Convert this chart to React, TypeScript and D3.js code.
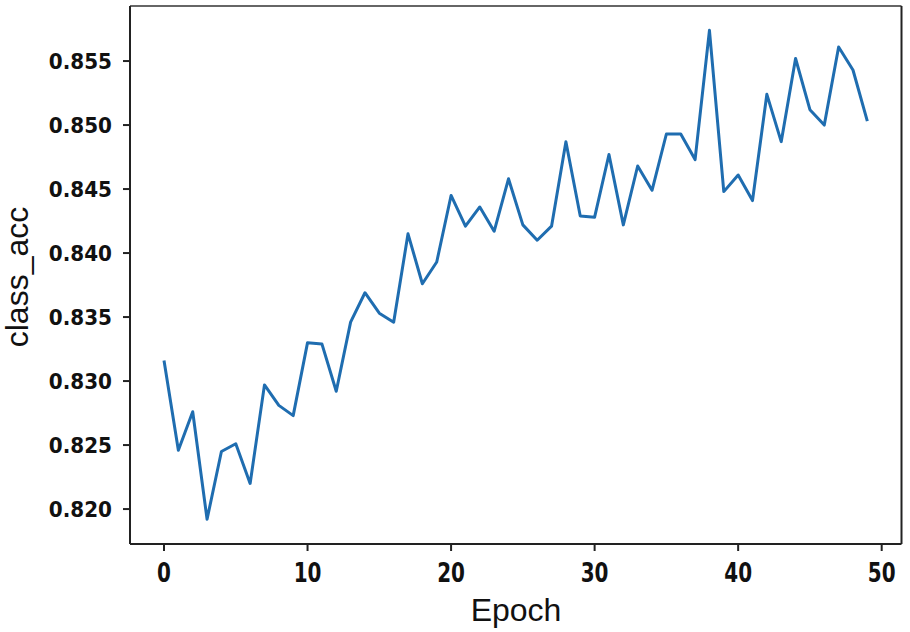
import React from "react";
import * as d3 from "d3";

const epochs: number[] = Array.from({ length: 50 }, (_, i) => i);
const classAcc: number[] = [
  0.8316, 0.8246, 0.8276, 0.8192, 0.8245, 0.8251, 0.822, 0.8297, 0.8281, 0.8273,
  0.833, 0.8329, 0.8292, 0.8346, 0.8369, 0.8353, 0.8346, 0.8415, 0.8376, 0.8393,
  0.8445, 0.8421, 0.8436, 0.8417, 0.8458, 0.8422, 0.841, 0.8421, 0.8487, 0.8429,
  0.8428, 0.8477, 0.8422, 0.8468, 0.8449, 0.8493, 0.8493, 0.8473, 0.8574, 0.8448,
  0.8461, 0.8441, 0.8524, 0.8487, 0.8552, 0.8512, 0.85, 0.8561, 0.8543, 0.8503,
];
const xTicks: number[] = [0, 10, 20, 30, 40, 50];
const yTicks: number[] = [0.82, 0.825, 0.83, 0.835, 0.84, 0.845, 0.85, 0.855];
const xLabel = "Epoch";
const yLabel = "class_acc";

export default function App() {
  const W = 910, H = 632;
  const left = 130, right = 901.5, top = 6, bottom = 544;
  const x = d3.scaleLinear().domain([-2.369, 51.38]).range([left, right]);
  const y = d3.scaleLinear().domain([0.81727, 0.8593]).range([bottom, top]);
  const line = d3
    .line<number>()
    .x((_, i) => x(epochs[i]))
    .y((d) => y(d));
  const tickFont = "'DejaVu Sans', sans-serif";
  return (
    <svg
      width={W}
      height={H}
      style={{ position: "absolute", left: 0, top: 0, background: "#fff" }}
    >
      <rect x={0} y={0} width={W} height={H} fill="#fff" />
      <path
        d={line(classAcc) || ""}
        fill="none"
        stroke="#1f6db0"
        strokeWidth={3}
        strokeLinejoin="round"
      />
      {/* spines */}
      <line x1={left} x2={right} y1={top} y2={top} stroke="#666" strokeWidth={2.2} />
      <line x1={right} x2={right} y1={top} y2={bottom} stroke="#222" strokeWidth={2} />
      <line x1={left} x2={left} y1={top} y2={bottom} stroke="#222" strokeWidth={2} />
      <line x1={left} x2={right} y1={bottom} y2={bottom} stroke="#222" strokeWidth={2} />
      {yTicks.map((t) => (
        <g key={"y" + t}>
          <line x1={left - 7} x2={left} y1={y(t)} y2={y(t)} stroke="#222" strokeWidth={2} />
          <text
            transform={`translate(${left - 18}, ${y(t) + 8}) scale(1, 1.1)`}
            textAnchor="end"
            fontFamily={tickFont}
            fontWeight="bold"
            fontSize={20}
            fill="#111"
          >
            {t.toFixed(3)}
          </text>
        </g>
      ))}
      {xTicks.map((t) => (
        <g key={"x" + t}>
          <line x1={x(t)} x2={x(t)} y1={bottom} y2={bottom + 7} stroke="#222" strokeWidth={2} />
          <text
            transform={`translate(${x(t)}, 582) scale(1, 1.35)`}
            textAnchor="middle"
            fontFamily={tickFont}
            fontWeight="bold"
            fontSize={20}
            fill="#111"
          >
            {t}
          </text>
        </g>
      ))}
      <text
        x={516}
        y={621}
        textAnchor="middle"
        fontFamily="'Liberation Sans', Arial, sans-serif"
        fontSize={32}
        fill="#111"
      >
        {xLabel}
      </text>
      <text
        transform={`translate(28, 277) rotate(-90)`}
        textAnchor="middle"
        fontFamily="'Liberation Sans', Arial, sans-serif"
        fontSize={32}
        fill="#111"
      >
        {yLabel}
      </text>
    </svg>
  );
}
